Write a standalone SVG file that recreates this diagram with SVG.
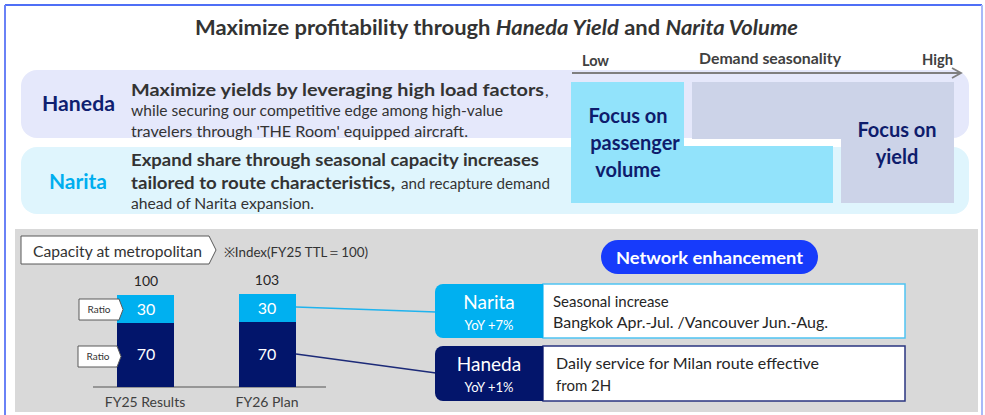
<svg xmlns="http://www.w3.org/2000/svg" width="985" height="415" viewBox="0 0 985 415">
<defs>
<style>
text{font-family:Lato,"Open Sans","Liberation Sans",sans-serif;}
.t{fill:#333;}
.b{font-weight:bold;}
.c{text-anchor:middle;}
.focus{font-size:20px;font-weight:bold;fill:#0e1c6c;text-anchor:middle;}
.ax{font-size:14.5px;font-weight:bold;fill:#404040;}
.w{fill:#fff;}
</style>
<marker id="arr" viewBox="0 0 12 12" refX="10" refY="6" markerWidth="12" markerHeight="12" markerUnits="userSpaceOnUse" orient="auto">
<path d="M1,1 L10,6 L1,11" fill="none" stroke="#7f7f7f" stroke-width="1.8"/>
</marker>
</defs>
<rect width="985" height="415" fill="#fff"/>
<g id="frame">
<line x1="5" y1="5" x2="982" y2="5" stroke="#4f6ff6" stroke-width="2"/>
<line x1="5" y1="5" x2="5" y2="415" stroke="#6a82f6" stroke-width="2"/>
<line x1="982" y1="5" x2="982" y2="415" stroke="#a9b9f8" stroke-width="2"/>
</g>
<g id="title">
<text x="195" y="35" font-size="21" class="b" fill="#333" textLength="603" lengthAdjust="spacingAndGlyphs"><tspan>Maximize profitability through </tspan><tspan font-style="italic">Haneda Yield</tspan><tspan> and </tspan><tspan font-style="italic">Narita Volume</tspan></text>
</g>
<g id="haneda-row">
<rect x="21" y="70" width="948" height="68" rx="16" fill="#e5e8fb"/>
<text x="42" y="111" font-size="21.5" class="b" fill="#0f1f70" textLength="73" lengthAdjust="spacingAndGlyphs">Haneda</text>
<text x="131" y="96" font-size="17.5" class="t b" textLength="413" lengthAdjust="spacingAndGlyphs">Maximize yields by leveraging high load factors</text>
<text x="545" y="96" font-size="16" class="t">,</text>
<text x="131" y="116" font-size="14.5" class="t" textLength="372" lengthAdjust="spacingAndGlyphs">while securing our competitive edge among high-value</text>
<text x="131" y="137" font-size="14.5" class="t" textLength="337" lengthAdjust="spacingAndGlyphs">travelers through 'THE Room' equipped aircraft.</text>
</g>
<g id="narita-row">
<rect x="21" y="147" width="948" height="67" rx="16" fill="#dff5fd"/>
<text x="49" y="189" font-size="21.5" class="b" fill="#00aeef" textLength="58" lengthAdjust="spacingAndGlyphs">Narita</text>
<text x="131" y="166" font-size="17.5" class="t b" textLength="408" lengthAdjust="spacingAndGlyphs">Expand share through seasonal capacity increases</text>
<text x="131" y="189" font-size="17.5" class="t b" textLength="264" lengthAdjust="spacingAndGlyphs">tailored to route characteristics,</text>
<text x="401" y="189" font-size="14.5" class="t" textLength="149" lengthAdjust="spacingAndGlyphs">and recapture demand</text>
<text x="131" y="209" font-size="14.5" class="t" textLength="183" lengthAdjust="spacingAndGlyphs">ahead of Narita expansion.</text>
</g>
<g id="seasonality-axis">
<line x1="572" y1="73" x2="961" y2="73" stroke="#7f7f7f" stroke-width="2" marker-end="url(#arr)"/>
<text x="582" y="66" class="ax" textLength="27" lengthAdjust="spacingAndGlyphs">Low</text>
<text x="699" y="64" class="ax" textLength="142" lengthAdjust="spacingAndGlyphs">Demand seasonality</text>
<text x="922" y="65" class="ax" textLength="31" lengthAdjust="spacingAndGlyphs">High</text>
</g>
<g id="focus-volume">
<path d="M571,82 H684 V146 H833 V203 H571 Z" fill="#92e3fb"/>
<text x="628" y="123" class="focus">Focus on</text>
<text x="635" y="150" class="focus">passenger</text>
<text x="628" y="177" class="focus">volume</text>
</g>
<g id="focus-yield">
<path d="M692,82 H954 V203 H841 V139 H692 Z" fill="#ccd3e8"/>
<text x="897" y="137" class="focus">Focus on</text>
<text x="897" y="164" class="focus">yield</text>
</g>
<g id="bottom-panel">
<rect x="15" y="229" width="963" height="183" fill="#d9d9d9"/>
</g>
<g id="capacity-label">
<path d="M21,236 H209 L216,250 L209,264 H21 Z" fill="#fff" stroke="#595959" stroke-width="1"/>
<text x="33" y="257" font-size="15.5" fill="#333" textLength="169" lengthAdjust="spacingAndGlyphs">Capacity at metropolitan</text>
<text x="224" y="257" font-size="13.5" fill="#333" textLength="144" lengthAdjust="spacingAndGlyphs">※Index(FY25 TTL＝100)</text>
</g>
<g id="connectors">
<line x1="296" y1="307" x2="436" y2="312" stroke="#1fb3ee" stroke-width="1.5"/>
<line x1="296" y1="354" x2="436" y2="373" stroke="#1c2a78" stroke-width="1.5"/>
</g>
<g id="chart">
<line x1="93" y1="387" x2="326" y2="387" stroke="#7f7f7f" stroke-width="1.3"/>
<rect x="117" y="295" width="57" height="28" fill="#00b0f0"/>
<rect x="117" y="323" width="57" height="64" fill="#02156b"/>
<rect x="239" y="294" width="57" height="28" fill="#00b0f0"/>
<rect x="239" y="322" width="57" height="65" fill="#02156b"/>
<text x="146" y="286" font-size="14" class="c" fill="#262626">100</text>
<text x="267" y="285" font-size="14" class="c" fill="#262626">103</text>
<text x="146" y="315" font-size="16" class="c w">30</text>
<text x="267" y="314" font-size="16" class="c w">30</text>
<text x="146" y="360" font-size="16" class="c w">70</text>
<text x="267" y="360" font-size="16" class="c w">70</text>
<text x="145" y="407" font-size="14" class="c" fill="#404040">FY25 Results</text>
<text x="267" y="407" font-size="14" class="c" fill="#404040">FY26 Plan</text>
</g>
<g id="ratio-tag-1">
<path d="M79,299 H119 L123,309.5 L119,320 H79 Z" fill="#fff" stroke="#595959" stroke-width="1"/>
<text x="99" y="313" font-size="10" class="c" fill="#333">Ratio</text>
</g>
<g id="ratio-tag-2">
<path d="M78,346 H117 L121,356.5 L117,367 H78 Z" fill="#fff" stroke="#595959" stroke-width="1"/>
<text x="98" y="360" font-size="10" class="c" fill="#333">Ratio</text>
</g>
<g id="network-pill">
<rect x="601" y="240" width="217" height="34" rx="17" fill="#173bfb"/>
<text x="616" y="264" font-size="17.5" class="b w" textLength="187" lengthAdjust="spacingAndGlyphs">Network enhancement</text>
</g>
<g id="narita-box">
<rect x="543" y="284" width="362" height="54" fill="#fff" stroke="#4fc3f2" stroke-width="1.5"/>
<path d="M435,292 a8,8 0 0 1 8,-8 H543 V338 H443 a8,8 0 0 1 -8,-8 Z" fill="#00b0f0"/>
<text x="489" y="309" font-size="19" class="c w">Narita</text>
<text x="489" y="330" font-size="13" class="c w">YoY +7%</text>
<text x="553" y="307" font-size="15" fill="#262626">Seasonal increase</text>
<text x="553" y="328" font-size="15" fill="#262626" textLength="275" lengthAdjust="spacingAndGlyphs">Bangkok Apr.-Jul. /Vancouver Jun.-Aug.</text>
</g>
<g id="haneda-box">
<rect x="543" y="346" width="362" height="55" fill="#fff" stroke="#2a3580" stroke-width="1.5"/>
<path d="M435,354 a8,8 0 0 1 8,-8 H543 V401 H443 a8,8 0 0 1 -8,-8 Z" fill="#03156b"/>
<text x="489" y="371" font-size="19" class="c w">Haneda</text>
<text x="489" y="392" font-size="13" class="c w">YoY +1%</text>
<text x="556" y="369" font-size="15" fill="#262626" textLength="263" lengthAdjust="spacingAndGlyphs">Daily service for Milan route effective</text>
<text x="556" y="391" font-size="15" fill="#262626">from 2H</text>
</g>
</svg>
